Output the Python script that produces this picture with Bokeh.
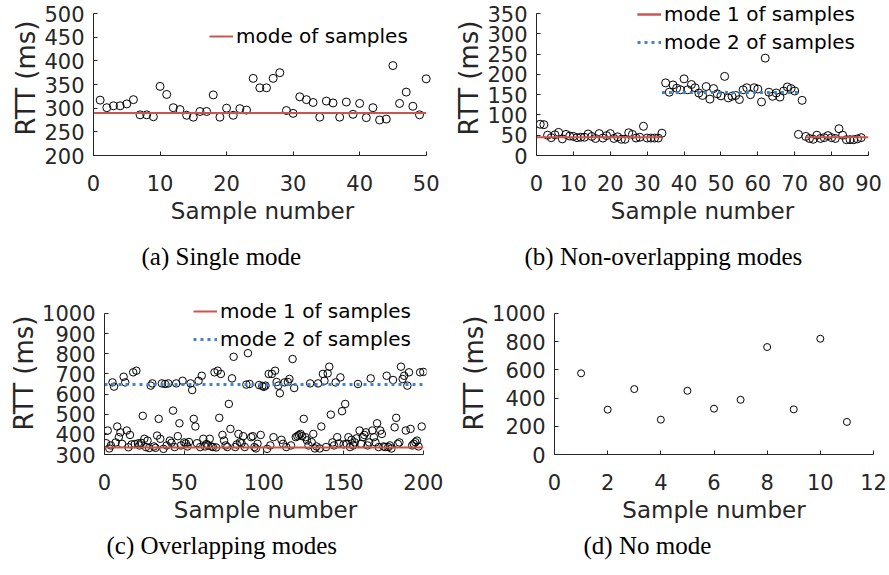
from bokeh.plotting import figure
from bokeh.models import Range1d, FixedTicker, Legend, LegendItem, Title
from bokeh.layouts import row, column
from bokeh.embed import file_html
from bokeh.resources import INLINE

SANS = "DejaVu Sans"
SERIF = "Liberation Serif"
AX = "#262626"
RED = "#cc5450"
BLUE = "#4682c8"

# ---------------- (a) Single mode ----------------
a_sample = list(range(1, 51))
a_rtt = [317, 301, 305, 305, 309, 318, 286, 286, 282, 346,
         329, 301, 297, 285, 281, 293, 293, 328, 281, 300,
         285, 299, 296, 363, 343, 343, 363, 375, 295, 289,
         324, 318, 312, 281, 315, 311, 281, 313, 287, 310,
         280, 301, 275, 277, 390, 310, 334, 304, 286, 362]
a_mode = 290
a_mode_x = [0, 50]

# ---------------- (b) Non-overlapping modes ----------------
b_sample = list(range(1, 89))
b_rtt = [77, 76, 50, 44, 51, 57, 41, 52, 48, 47,
         44, 45, 45, 53, 47, 42, 54, 43, 49, 54,
         42, 46, 40, 40, 56, 52, 43, 45, 72, 43,
         43, 43, 43, 55, 179, 156, 174, 166, 162, 189,
         162, 175, 167, 154, 148, 170, 139, 165, 152, 147,
         195, 142, 146, 148, 138, 162, 167, 150, 167, 164,
         132, 240, 156, 146, 154, 144, 159, 169, 165, 159,
         52, 136, 47, 42, 40, 50, 42, 44, 49, 44,
         42, 66, 50, 39, 39, 39, 41, 44]
b_mode1 = 45
b_mode1_x1 = [0, 34]
b_mode1_x2 = [73, 90]
b_mode2 = 155
b_mode2_x = [34, 72]

# ---------------- (c) Overlapping modes ----------------
c_sample = list(range(1, 201))
c_rtt = [356, 419, 330, 345, 658, 637, 360, 439, 386, 410,
         353, 686, 658, 419, 336, 397, 350, 708, 352, 716,
         355, 345, 358, 492, 378, 337, 369, 332, 642, 653,
         340, 333, 394, 477, 378, 653, 328, 650, 345, 653,
         369, 358, 518, 337, 653, 391, 455, 345, 666, 360,
         355, 340, 362, 653, 620, 477, 439, 356, 666, 337,
         691, 378, 340, 352, 345, 378, 340, 337, 708, 335,
         716, 482, 700, 397, 369, 345, 337, 551, 427, 678,
         785, 337, 350, 402, 361, 356, 391, 337, 647, 803,
         650, 386, 391, 337, 330, 353, 645, 397, 640, 636,
         642, 328, 700, 345, 700, 386, 716, 660, 642, 604,
         373, 353, 658, 337, 660, 675, 345, 774, 630, 386,
         391, 397, 402, 391, 477, 386, 370, 345, 653, 361,
         402, 330, 340, 653, 330, 439, 700, 666, 337, 703,
         736, 498, 360, 345, 658, 386, 355, 683, 515, 350,
         551, 353, 386, 337, 373, 345, 360, 380, 650, 419,
         353, 386, 397, 410, 345, 360, 678, 419, 386, 360,
         455, 337, 419, 402, 340, 337, 691, 337, 345, 330,
         670, 435, 482, 353, 360, 736, 675, 691, 419, 642,
         708, 427, 345, 353, 361, 369, 340, 708, 439, 710]
c_mode1 = 335
c_mode2 = 648
c_mode_x = [0, 200]

# ---------------- (d) No mode ----------------
d_sample = list(range(1, 12))
d_rtt = [576, 318, 464, 247, 452, 325, 388, 762, 320, 821, 231]

# tick positions
a_xticks = [0, 10, 20, 30, 40, 50]
a_yticks = [200, 250, 300, 350, 400, 450, 500]
b_xticks = [0, 10, 20, 30, 40, 50, 60, 70, 80, 90]
b_yticks = [0, 50, 100, 150, 200, 250, 300, 350]
c_xticks = [0, 50, 100, 150, 200]
c_yticks = [300, 400, 500, 600, 700, 800, 900, 1000]
d_xticks = [0, 2, 4, 6, 8, 10, 12]
d_yticks = [0, 200, 400, 600, 800, 1000]

captions = ["(a) Single mode", "(b) Non-overlapping modes",
            "(c) Overlapping modes", "(d) No mode"]


def make_fig(w, h, left, right, top, bottom, xr, yr):
    p = figure(width=w, height=h, output_backend="svg", toolbar_location=None,
               x_range=Range1d(*xr), y_range=Range1d(*yr),
               min_border_left=left, min_border_right=right,
               min_border_top=top, min_border_bottom=bottom)
    p.background_fill_color = "white"
    p.border_fill_color = "white"
    p.outline_line_color = None
    p.xgrid.visible = False
    p.ygrid.visible = False
    return p


def style(p, xticks, yticks, xbounds, ybounds):
    p.xaxis.ticker = FixedTicker(ticks=xticks)
    p.yaxis.ticker = FixedTicker(ticks=yticks)
    for ax in (p.xaxis[0], p.yaxis[0]):
        ax.axis_line_color = AX
        ax.axis_line_width = 1
        ax.major_tick_line_color = AX
        ax.major_tick_in = 4
        ax.major_tick_out = 0
        ax.minor_tick_line_color = None
        ax.major_label_text_font = SANS
        ax.major_label_text_font_size = "21px"
        ax.major_label_text_color = AX
        ax.axis_label_text_font = SANS
        ax.axis_label_text_font_style = "normal"
        ax.axis_label_text_color = AX
    p.xaxis.axis_label = "Sample number"
    p.xaxis.axis_label_text_font_size = "23px"
    p.xaxis.major_label_standoff = 19
    p.xaxis.axis_label_standoff = 4
    p.yaxis.axis_label = "RTT (ms)"
    p.yaxis.axis_label_text_font_size = "26px"
    p.yaxis.major_label_standoff = 9
    p.yaxis.axis_label_standoff = 0
    p.xaxis.bounds = xbounds
    p.yaxis.bounds = ybounds


def add_caption(p, text, offset, standoff):
    t = Title(text=text, align="left", offset=offset, text_font=SERIF,
              text_font_size="25px", text_font_style="normal", text_color="black",
              standoff=standoff)
    p.add_layout(t, "below")


def add_legend(p, items, vx, vy):
    leg = Legend(items=items, location=(vx, vy), orientation="vertical",
                 background_fill_alpha=0, border_line_alpha=0, padding=0, margin=0,
                 spacing=4, glyph_width=24, glyph_height=20, label_height=20,
                 label_standoff=3, label_text_font=SANS, label_text_font_size="20px",
                 label_text_color="black")
    p.add_layout(leg)


def circles(p, x, y, size):
    p.scatter(x, y, marker="circle", size=size, fill_color=None,
              line_color="black", line_width=1)


# Row 1: frames reach the top edge (axis lines stop at the last tick), so the
# legends that sit above the last tick are not clipped.
# (a)
pa = make_fig(440, 287, 93, 9, 0, 132, (0, 50.8), (200, 527.5))
style(pa, a_xticks, a_yticks, (0, 50), (200, 500))
circles(pa, a_sample, a_rtt, 8)
ra = pa.line(a_mode_x, [a_mode, a_mode], line_color=RED, line_width=2)
add_legend(pa, [LegendItem(label="mode of samples", renderers=[ra])], 116, 107)
add_caption(pa, captions[0], 48, 29)

# (b)
pb = make_fig(449, 287, 96, 21, 0, 132, (0, 90), (0, 382.1))
style(pb, b_xticks, b_yticks, (0, 90), (0, 350))
circles(pb, b_sample, b_rtt, 8)
rb1 = pb.line(b_mode1_x1, [b_mode1, b_mode1], line_color=RED, line_width=2)
rb1b = pb.line(b_mode1_x2, [b_mode1, b_mode1], line_color=RED, line_width=2)
rb2 = pb.line(b_mode2_x, [b_mode2, b_mode2], line_color=BLUE, line_width=3, line_dash="3 4")
add_legend(pb, [LegendItem(label="mode 1 of samples", renderers=[rb1, rb1b]),
                LegendItem(label="mode 2 of samples", renderers=[rb2])], 101, 101)
add_caption(pb, captions[1], -12, 29)

# Row 2
# (c)
pc = make_fig(450, 288, 104, 24, 4, 121, (0, 202), (300, 1109.2))
style(pc, c_xticks, c_yticks, (0, 200), (300, 1000))
circles(pc, c_sample, c_rtt, 7.5)
rc1 = pc.line(c_mode_x, [c_mode1, c_mode1], line_color=RED, line_width=2)
rc2 = pc.line(c_mode_x, [c_mode2, c_mode2], line_color=BLUE, line_width=3, line_dash="3 4")
add_legend(pc, [LegendItem(label="mode 1 of samples", renderers=[rc1]),
                LegendItem(label="mode 2 of samples", renderers=[rc2])], 89, 103)
add_caption(pc, captions[2], 2, 9)

# (d)
pd_ = make_fig(439, 288, 104, 16, 4, 121, (0, 12), (0, 1156.0))
style(pd_, d_xticks, d_yticks, (0, 12), (0, 1000))
circles(pd_, d_sample, d_rtt, 7)
add_caption(pd_, captions[3], 29, 9)

layout = column(row(pa, pb), row(pc, pd_))
open("out.html", "w").write(file_html(layout, INLINE))
